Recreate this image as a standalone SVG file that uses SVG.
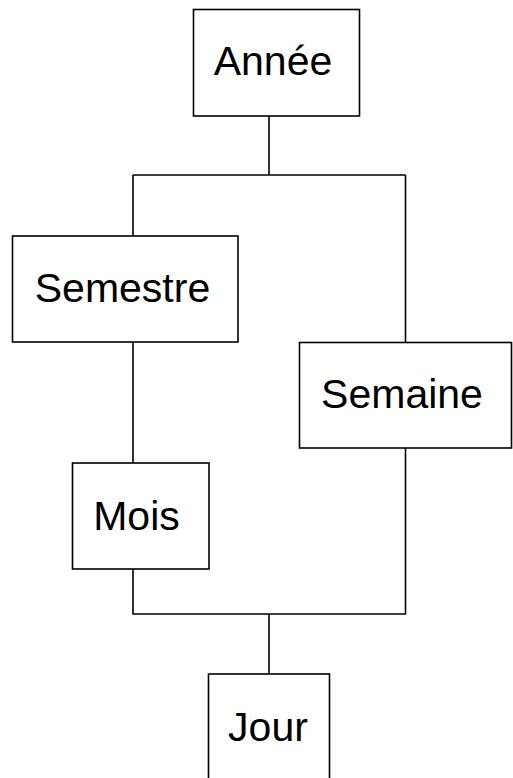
<svg xmlns="http://www.w3.org/2000/svg" width="513" height="778" viewBox="0 0 513 778">
<style>
.box{fill:#fff;stroke:#000;stroke-width:1.6}
.lbl{font-family:"Liberation Sans",Arial,sans-serif;font-size:41px;fill:#000;text-anchor:middle}
.wire{fill:none;stroke:#000;stroke-width:1.6}
</style>
<rect width="513" height="778" fill="#fff"/>
<g id="connectors">
<path class="wire" d="M269,116 V175 M133,175 H405.5 M133,175 V236 M405.5,175 V342.5 M133,342 V463 M133,569 V614 H405.5 V448 M269,614 V674"/>
</g>
<g id="annee"><rect class="box" x="193.5" y="9.5" width="166" height="106.5"/><text class="lbl" x="273" y="75">Année</text></g>
<g id="semestre"><rect class="box" x="12.5" y="236" width="225.5" height="106"/><text class="lbl" x="122.5" y="302">Semestre</text></g>
<g id="semaine"><rect class="box" x="299.5" y="342.5" width="212" height="105.5"/><text class="lbl" x="402" y="408">Semaine</text></g>
<g id="mois"><rect class="box" x="72.5" y="463" width="136.5" height="106"/><text class="lbl" x="136.5" y="530">Mois</text></g>
<g id="jour"><rect class="box" x="208.5" y="674" width="121" height="110"/><text class="lbl" x="268" y="741">Jour</text></g>
</svg>
